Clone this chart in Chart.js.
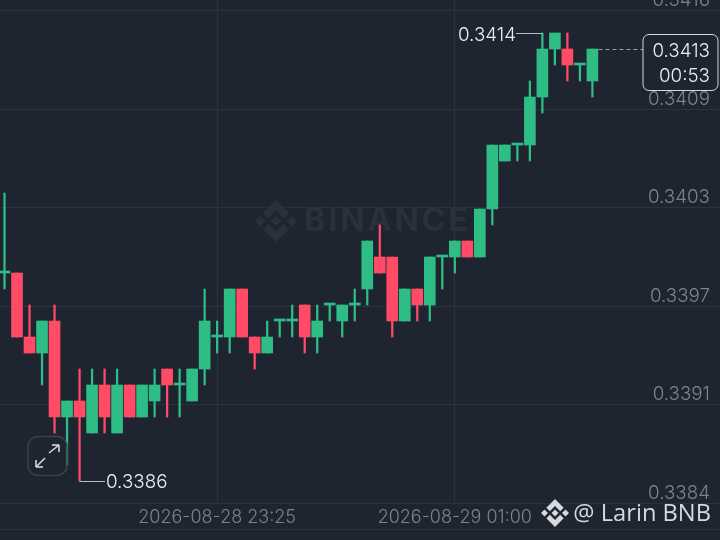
<!DOCTYPE html>
<html>
<head>
<meta charset="utf-8">
<style>
  html, body { margin: 0; padding: 0; background: #1e2530; }
  #wrap { width: 720px; height: 540px; position: relative; }
</style>
<script src="https://cdn.jsdelivr.net/npm/chart.js@4"></script>
</head>
<body>
<div id="wrap"><canvas id="chart"></canvas></div>
<script>
const times = ['22:00','22:05','22:10','22:15','22:20','22:25','22:30','22:35','22:40','22:45','22:50','22:55',
  '23:00','23:05','23:10','23:15','23:20','23:25','23:30','23:35','23:40','23:45','23:50','23:55',
  '00:00','00:05','00:10','00:15','00:20','00:25','00:30','00:35','00:40','00:45','00:50','00:55',
  '01:00','01:05','01:10','01:15','01:20','01:25','01:30','01:35','01:40','01:45','01:50','01:55'];
const opens = [0.3399,0.3399,0.3395,0.3394,0.3396,0.3390,0.3391,0.3389,0.3392,0.3389,0.3392,0.3390,
  0.3391,0.3393,0.3392,0.3391,0.3393,0.3395,0.3395,0.3398,0.3395,0.3394,0.3396,0.3396,
  0.3397,0.3395,0.3397,0.3396,0.3397,0.3398,0.3400,0.3400,0.3396,0.3398,0.3397,0.3400,
  0.3400,0.3401,0.3400,0.3403,0.3406,0.3407,0.3407,0.3410,0.3413,0.3413,0.3412,0.3411];
const closes = [0.3399,0.3395,0.3394,0.3396,0.3390,0.3391,0.3390,0.3392,0.3390,0.3392,0.3390,0.3392,
  0.3392,0.3392,0.3392,0.3393,0.3396,0.3395,0.3398,0.3395,0.3394,0.3395,0.3396,0.3396,
  0.3395,0.3396,0.3397,0.3397,0.3397,0.3401,0.3399,0.3396,0.3398,0.3397,0.3400,0.3400,
  0.3401,0.3400,0.3403,0.3407,0.3407,0.3407,0.3410,0.3413,0.3414,0.3412,0.3412,0.3413];
const highs = [0.3404,0.3399,0.3397,0.3396,0.3397,0.3391,0.3393,0.3393,0.3393,0.3393,0.3392,0.3392,
  0.3393,0.3393,0.3393,0.3393,0.3398,0.3396,0.3398,0.3398,0.3395,0.3396,0.3396,0.3397,
  0.3397,0.3397,0.3397,0.3397,0.3398,0.3401,0.3402,0.3400,0.3398,0.3398,0.3400,0.3400,
  0.3401,0.3401,0.3403,0.3407,0.3407,0.3407,0.3411,0.3414,0.3414,0.3414,0.3412,0.3413];
const lows = [0.3398,0.3395,0.3394,0.3392,0.3389,0.3387,0.3386,0.3389,0.3389,0.3389,0.3390,0.3390,
  0.3390,0.3390,0.3390,0.3391,0.3392,0.3394,0.3394,0.3395,0.3393,0.3394,0.3395,0.3395,
  0.3394,0.3394,0.3396,0.3395,0.3396,0.3397,0.3399,0.3395,0.3396,0.3396,0.3396,0.3398,
  0.3399,0.3400,0.3400,0.3402,0.3406,0.3406,0.3406,0.3409,0.3412,0.3411,0.3411,0.3410];

const priceTicks = [0.34154, 0.34092, 0.34031, 0.33969, 0.33908, 0.33846];
const priceLabels = ['0.3416', '0.3409', '0.3403', '0.3397', '0.3391', '0.3384'];
const dateTicks = [17, 36];
const dateLabels = ['2026-08-28 23:25', '2026-08-29 01:00'];

const green = '#2ebd85', red = '#ff4b66';
const bg = '#1e2530', gridColor = '#2c333d';
const FONT = 'Inter, "Noto Sans", sans-serif';

const colors = opens.map((o, i) => closes[i] >= o ? green : red);

function logo(ctx, cx, cy, r, color) {
  const shapes = [
    [[0, -.25], [.25, 0], [0, .25], [-.25, 0]],
    [[-1, 0], [-.75, -.25], [-.5, 0], [-.75, .25]],
    [[1, 0], [.75, -.25], [.5, 0], [.75, .25]],
    [[0, -1], [.62, -.38], [.37, -.13], [0, -.5], [-.37, -.13], [-.62, -.38]],
    [[0, 1], [.62, .38], [.37, .13], [0, .5], [-.37, .13], [-.62, .38]]
  ];
  ctx.fillStyle = color;
  shapes.forEach(s => {
    ctx.beginPath();
    s.forEach((p, i) => i ? ctx.lineTo(cx + p[0] * r, cy + p[1] * r) : ctx.moveTo(cx + p[0] * r, cy + p[1] * r));
    ctx.closePath();
    ctx.fill();
  });
}

function line(ctx, x1, y1, x2, y2) {
  ctx.beginPath();
  ctx.moveTo(x1, y1);
  ctx.lineTo(x2, y2);
  ctx.stroke();
}

// watermark goes under the candles
const watermark = {
  id: 'watermark',
  beforeDatasetsDraw(chart) {
    const ctx = chart.ctx;
    ctx.save();
    logo(ctx, 276, 221, 21, '#2a313b');
    ctx.fillStyle = '#2a313b';
    ctx.font = '700 32px ' + FONT;
    ctx.textAlign = 'left';
    ctx.textBaseline = 'middle';
    ctx.letterSpacing = '3px';
    ctx.fillText('BINANCE', 304, 221);
    ctx.restore();
  }
};

// price marks, countdown box, expand button and footer
const overlay = {
  id: 'overlay',
  afterDraw(chart) {
    const ctx = chart.ctx, x = chart.scales.x, y = chart.scales.y;
    const last = opens.length - 1;
    ctx.save();

    ctx.strokeStyle = gridColor;
    ctx.lineWidth = 1;
    line(ctx, 0, 529.5, 720, 529.5);

    // high / low marks
    const hi = highs.indexOf(Math.max(...highs));
    const lo = lows.indexOf(Math.min(...lows));
    ctx.strokeStyle = '#b7bbc1';
    line(ctx, x.getPixelForValue(hi), y.getPixelForValue(highs[hi]) + .5, 516, y.getPixelForValue(highs[hi]) + .5);
    line(ctx, x.getPixelForValue(lo), y.getPixelForValue(lows[lo]) + .5, 105, y.getPixelForValue(lows[lo]) + .5);
    ctx.font = '300 18.8px ' + FONT;
    ctx.fillStyle = '#eaecef';
    ctx.textBaseline = 'middle';
    ctx.textAlign = 'right';
    ctx.fillText(highs[hi].toFixed(4), 516, y.getPixelForValue(highs[hi]) + 2);
    ctx.textAlign = 'left';
    ctx.fillText(lows[lo].toFixed(4), 106, y.getPixelForValue(lows[lo]) + 1.5);

    // current price
    const py = y.getPixelForValue(closes[last]) + .5;
    ctx.strokeStyle = '#9a9fa6';
    ctx.setLineDash([4, 3]);
    line(ctx, x.getPixelForValue(last) + 6, py, 643, py);
    ctx.setLineDash([]);
    ctx.beginPath();
    ctx.roundRect(643, 34.5, 75, 56, 6);
    ctx.fillStyle = bg;
    ctx.fill();
    ctx.strokeStyle = '#d5d8dc';
    ctx.stroke();
    ctx.fillStyle = '#eaecef';
    ctx.textAlign = 'right';
    ctx.fillText(closes[last].toFixed(4), 710, 51);
    ctx.fillText('00:53', 710, 76);

    // expand button
    ctx.strokeStyle = '#3a414c';
    ctx.lineWidth = 1.5;
    ctx.beginPath();
    ctx.roundRect(28, 436.5, 39, 39, 10);
    ctx.stroke();
    ctx.strokeStyle = '#d5d8dc';
    ctx.lineWidth = 1.6;
    line(ctx, 49, 453, 59, 445);
    line(ctx, 52, 445, 59, 445);
    line(ctx, 59, 445, 59, 452);
    line(ctx, 45, 458, 36, 467);
    line(ctx, 36, 460, 36, 467);
    line(ctx, 36, 467, 43, 467);

    // footer
    logo(ctx, 555, 513, 14, '#d5d8dc');
    ctx.fillStyle = '#d5d8dc';
    ctx.font = '23.7px "Open Sans", sans-serif';
    ctx.textAlign = 'right';
    ctx.fillText('@ Larin BNB', 711, 514);
    ctx.restore();
  }
};

new Chart(document.getElementById('chart'), {
  type: 'bar',
  data: {
    datasets: [
      {
        data: times.map((t, i) => ({ x: i, y: [lows[i], highs[i]] })),
        backgroundColor: colors,
        barThickness: 1.6,
        order: 2
      },
      {
        data: times.map((t, i) => ({ x: i, y: [opens[i], closes[i]] })),
        backgroundColor: colors,
        barThickness: 11,
        minBarLength: 2,
        order: 1
      }
    ]
  },
  options: {
    responsive: true,
    maintainAspectRatio: false,
    animation: false,
    layout: { padding: 0 },
    datasets: { bar: { grouped: false } },
    plugins: { legend: { display: false }, tooltip: { enabled: false } },
    scales: {
      x: {
        type: 'linear',
        offset: false,
        min: -0.36,
        max: 57.2,
        afterBuildTicks: s => { s.ticks = dateTicks.map(v => ({ value: v })); },
        afterFit: s => { s.height = 37; s.paddingLeft = 0; s.paddingRight = 0; },
        grid: { color: gridColor, drawTicks: false, offset: false },
        border: { color: gridColor },
        ticks: {
          autoSkip: false,
          maxRotation: 0,
          padding: 4,
          color: '#7d838c',
          font: { family: FONT, size: 18, weight: '300' },
          callback: v => dateLabels[dateTicks.indexOf(v)]
        }
      },
      y: {
        position: 'right',
        min: 0.3384625,
        max: 0.3416063,
        afterBuildTicks: s => { s.ticks = priceTicks.map(v => ({ value: v })); },
        afterFit: s => { s.width = 0; s.paddingTop = 0; s.paddingBottom = 0; },
        grid: { color: gridColor, drawTicks: false },
        border: { display: false },
        ticks: {
          mirror: true,
          autoSkip: false,
          padding: -10,
          labelOffset: -10,
          color: '#7d838c',
          font: { family: FONT, size: 18.8, weight: '300' },
          callback: v => priceLabels[priceTicks.indexOf(v)]
        }
      }
    }
  },
  plugins: [watermark, overlay]
});
</script>
</body>
</html>
